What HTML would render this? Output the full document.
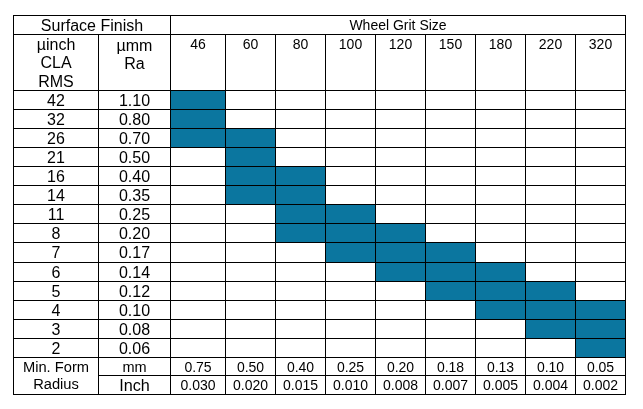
<!DOCTYPE html>
<html><head><meta charset="utf-8"><style>
html,body{margin:0;padding:0;background:#fff;}
body{width:643px;height:409px;position:relative;overflow:hidden;font-family:"Liberation Sans",sans-serif;color:#000;}
body>div{position:absolute;}
.t{text-align:center;white-space:nowrap;will-change:transform;}
</style></head><body>
<div style="left:170px;top:90px;width:55px;height:57px;background:#0B769F"></div>
<div style="left:225px;top:128px;width:50px;height:76px;background:#0B769F"></div>
<div style="left:275px;top:166px;width:50px;height:76px;background:#0B769F"></div>
<div style="left:325px;top:204px;width:50px;height:58px;background:#0B769F"></div>
<div style="left:375px;top:223px;width:50px;height:58px;background:#0B769F"></div>
<div style="left:425px;top:242px;width:50px;height:58px;background:#0B769F"></div>
<div style="left:475px;top:262px;width:50px;height:57px;background:#0B769F"></div>
<div style="left:525px;top:281px;width:50px;height:57px;background:#0B769F"></div>
<div style="left:575px;top:300px;width:50px;height:57px;background:#0B769F"></div>
<div style="left:13px;top:15px;width:613px;height:1px;background:#000"></div>
<div style="left:13px;top:34px;width:613px;height:1px;background:#000"></div>
<div style="left:13px;top:90px;width:613px;height:1px;background:#000"></div>
<div style="left:13px;top:109px;width:613px;height:1px;background:#000"></div>
<div style="left:13px;top:128px;width:613px;height:1px;background:#000"></div>
<div style="left:13px;top:147px;width:613px;height:1px;background:#000"></div>
<div style="left:13px;top:166px;width:613px;height:1px;background:#000"></div>
<div style="left:13px;top:185px;width:613px;height:1px;background:#000"></div>
<div style="left:13px;top:204px;width:613px;height:1px;background:#000"></div>
<div style="left:13px;top:223px;width:613px;height:1px;background:#000"></div>
<div style="left:13px;top:242px;width:613px;height:1px;background:#000"></div>
<div style="left:13px;top:262px;width:613px;height:1px;background:#000"></div>
<div style="left:13px;top:281px;width:613px;height:1px;background:#000"></div>
<div style="left:13px;top:300px;width:613px;height:1px;background:#000"></div>
<div style="left:13px;top:319px;width:613px;height:1px;background:#000"></div>
<div style="left:13px;top:338px;width:613px;height:1px;background:#000"></div>
<div style="left:13px;top:357px;width:613px;height:1px;background:#000"></div>
<div style="left:98px;top:375px;width:528px;height:1px;background:#000"></div>
<div style="left:13px;top:394px;width:613px;height:1px;background:#000"></div>
<div style="left:13px;top:15px;width:1px;height:380px;background:#000"></div>
<div style="left:98px;top:34px;width:1px;height:361px;background:#000"></div>
<div style="left:170px;top:15px;width:1px;height:380px;background:#000"></div>
<div style="left:225px;top:34px;width:1px;height:361px;background:#000"></div>
<div style="left:275px;top:34px;width:1px;height:361px;background:#000"></div>
<div style="left:325px;top:34px;width:1px;height:361px;background:#000"></div>
<div style="left:375px;top:34px;width:1px;height:361px;background:#000"></div>
<div style="left:425px;top:34px;width:1px;height:361px;background:#000"></div>
<div style="left:475px;top:34px;width:1px;height:361px;background:#000"></div>
<div style="left:525px;top:34px;width:1px;height:361px;background:#000"></div>
<div style="left:575px;top:34px;width:1px;height:361px;background:#000"></div>
<div style="left:625px;top:15px;width:1px;height:380px;background:#000"></div>
<div class="t" style="left:13.3px;width:158px;top:16px;line-height:19px;font-size:16px;">Surface Finish</div>
<div class="t" style="left:170px;width:456px;top:16px;line-height:19px;font-size:14px;">Wheel Grit Size</div>
<div class="t" style="left:13px;width:86px;top:36px;line-height:18.4px;font-size:16px;">µinch<br>CLA<br>RMS</div>
<div class="t" style="left:98px;width:73px;top:36.5px;line-height:18.4px;font-size:16px;">µmm<br>Ra</div>
<div class="t" style="left:170px;width:56px;top:35px;line-height:19px;font-size:14px;">46</div>
<div class="t" style="left:225px;width:51px;top:35px;line-height:19px;font-size:14px;">60</div>
<div class="t" style="left:275px;width:51px;top:35px;line-height:19px;font-size:14px;">80</div>
<div class="t" style="left:325px;width:51px;top:35px;line-height:19px;font-size:14px;">100</div>
<div class="t" style="left:375px;width:51px;top:35px;line-height:19px;font-size:14px;">120</div>
<div class="t" style="left:425px;width:51px;top:35px;line-height:19px;font-size:14px;">150</div>
<div class="t" style="left:475px;width:51px;top:35px;line-height:19px;font-size:14px;">180</div>
<div class="t" style="left:525px;width:51px;top:35px;line-height:19px;font-size:14px;">220</div>
<div class="t" style="left:575px;width:51px;top:35px;line-height:19px;font-size:14px;">320</div>
<div class="t" style="left:13px;width:86px;top:91px;line-height:19px;font-size:16px;">42</div>
<div class="t" style="left:98px;width:73px;top:91px;line-height:19px;font-size:16px;">1.10</div>
<div class="t" style="left:13px;width:86px;top:110px;line-height:19px;font-size:16px;">32</div>
<div class="t" style="left:98px;width:73px;top:110px;line-height:19px;font-size:16px;">0.80</div>
<div class="t" style="left:13px;width:86px;top:129px;line-height:19px;font-size:16px;">26</div>
<div class="t" style="left:98px;width:73px;top:129px;line-height:19px;font-size:16px;">0.70</div>
<div class="t" style="left:13px;width:86px;top:148px;line-height:19px;font-size:16px;">21</div>
<div class="t" style="left:98px;width:73px;top:148px;line-height:19px;font-size:16px;">0.50</div>
<div class="t" style="left:13px;width:86px;top:167px;line-height:19px;font-size:16px;">16</div>
<div class="t" style="left:98px;width:73px;top:167px;line-height:19px;font-size:16px;">0.40</div>
<div class="t" style="left:13px;width:86px;top:186px;line-height:19px;font-size:16px;">14</div>
<div class="t" style="left:98px;width:73px;top:186px;line-height:19px;font-size:16px;">0.35</div>
<div class="t" style="left:13px;width:86px;top:205px;line-height:19px;font-size:16px;">11</div>
<div class="t" style="left:98px;width:73px;top:205px;line-height:19px;font-size:16px;">0.25</div>
<div class="t" style="left:13px;width:86px;top:224px;line-height:19px;font-size:16px;">8</div>
<div class="t" style="left:98px;width:73px;top:224px;line-height:19px;font-size:16px;">0.20</div>
<div class="t" style="left:13px;width:86px;top:243px;line-height:19px;font-size:16px;">7</div>
<div class="t" style="left:98px;width:73px;top:243px;line-height:19px;font-size:16px;">0.17</div>
<div class="t" style="left:13px;width:86px;top:263px;line-height:19px;font-size:16px;">6</div>
<div class="t" style="left:98px;width:73px;top:263px;line-height:19px;font-size:16px;">0.14</div>
<div class="t" style="left:13px;width:86px;top:282px;line-height:19px;font-size:16px;">5</div>
<div class="t" style="left:98px;width:73px;top:282px;line-height:19px;font-size:16px;">0.12</div>
<div class="t" style="left:13px;width:86px;top:301px;line-height:19px;font-size:16px;">4</div>
<div class="t" style="left:98px;width:73px;top:301px;line-height:19px;font-size:16px;">0.10</div>
<div class="t" style="left:13px;width:86px;top:320px;line-height:19px;font-size:16px;">3</div>
<div class="t" style="left:98px;width:73px;top:320px;line-height:19px;font-size:16px;">0.08</div>
<div class="t" style="left:13px;width:86px;top:339px;line-height:19px;font-size:16px;">2</div>
<div class="t" style="left:98px;width:73px;top:339px;line-height:19px;font-size:16px;">0.06</div>
<div class="t" style="left:13px;width:86px;top:359px;line-height:16.7px;font-size:14.7px;">Min. Form<br>Radius</div>
<div class="t" style="left:98px;width:73px;top:358px;line-height:19px;font-size:14.5px;">mm</div>
<div class="t" style="left:98px;width:73px;top:376px;line-height:19px;font-size:16.2px;">Inch</div>
<div class="t" style="left:170px;width:56px;top:358px;line-height:19px;font-size:14px;">0.75</div>
<div class="t" style="left:170px;width:56px;top:376px;line-height:19px;font-size:14px;">0.030</div>
<div class="t" style="left:225px;width:51px;top:358px;line-height:19px;font-size:14px;">0.50</div>
<div class="t" style="left:225px;width:51px;top:376px;line-height:19px;font-size:14px;">0.020</div>
<div class="t" style="left:275px;width:51px;top:358px;line-height:19px;font-size:14px;">0.40</div>
<div class="t" style="left:275px;width:51px;top:376px;line-height:19px;font-size:14px;">0.015</div>
<div class="t" style="left:325px;width:51px;top:358px;line-height:19px;font-size:14px;">0.25</div>
<div class="t" style="left:325px;width:51px;top:376px;line-height:19px;font-size:14px;">0.010</div>
<div class="t" style="left:375px;width:51px;top:358px;line-height:19px;font-size:14px;">0.20</div>
<div class="t" style="left:375px;width:51px;top:376px;line-height:19px;font-size:14px;">0.008</div>
<div class="t" style="left:425px;width:51px;top:358px;line-height:19px;font-size:14px;">0.18</div>
<div class="t" style="left:425px;width:51px;top:376px;line-height:19px;font-size:14px;">0.007</div>
<div class="t" style="left:475px;width:51px;top:358px;line-height:19px;font-size:14px;">0.13</div>
<div class="t" style="left:475px;width:51px;top:376px;line-height:19px;font-size:14px;">0.005</div>
<div class="t" style="left:525px;width:51px;top:358px;line-height:19px;font-size:14px;">0.10</div>
<div class="t" style="left:525px;width:51px;top:376px;line-height:19px;font-size:14px;">0.004</div>
<div class="t" style="left:575px;width:51px;top:358px;line-height:19px;font-size:14px;">0.05</div>
<div class="t" style="left:575px;width:51px;top:376px;line-height:19px;font-size:14px;">0.002</div>
</body></html>
